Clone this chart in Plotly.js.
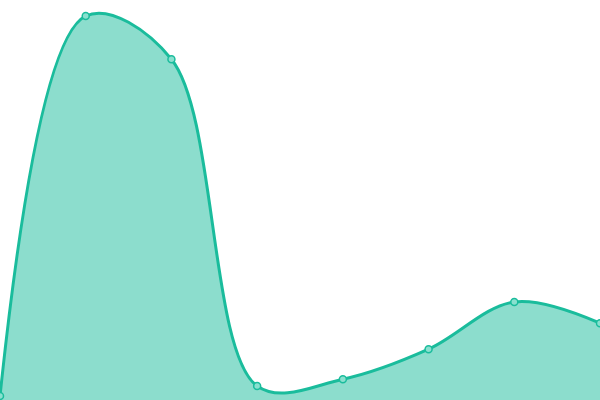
<!DOCTYPE html>
<html>
<head>
<meta charset="utf-8">
<script src="https://cdn.plot.ly/plotly-3.0.1.min.js"></script>
<style>
  html, body { margin: 0; padding: 0; background: #fff; }
  #chart { width: 600px; height: 400px; }
</style>
</head>
<body>
<div id="chart"></div>
<script>
// points, y on a 0-100 scale
var xs = [0, 1, 2, 3, 4, 5, 6, 7];
var ys = [1, 96, 85.2, 3.5, 5.2, 12.7, 24.5, 19.2];

var trace = {
  x: xs,
  y: ys,
  type: 'scatter',
  mode: 'lines+markers',
  fill: 'tozeroy',
  fillcolor: 'rgba(26,188,156,0.5)',
  line: { color: '#1abc9c', width: 3, shape: 'spline', smoothing: 1 },
  marker: { size: 7, color: '#8ae0cf', line: { color: '#1abc9c', width: 1.5 } },
  cliponaxis: false,
  hoverinfo: 'none'
};

var layout = {
  width: 600,
  height: 400,
  margin: { l: 0, r: 0, t: 0, b: 0 },
  paper_bgcolor: '#fff',
  plot_bgcolor: '#fff',
  showlegend: false,
  xaxis: { range: [0, 7], visible: false, fixedrange: true },
  yaxis: { range: [0, 100], visible: false, fixedrange: true }
};

Plotly.newPlot('chart', [trace], layout, { displayModeBar: false, staticPlot: true });
</script>
</body>
</html>
